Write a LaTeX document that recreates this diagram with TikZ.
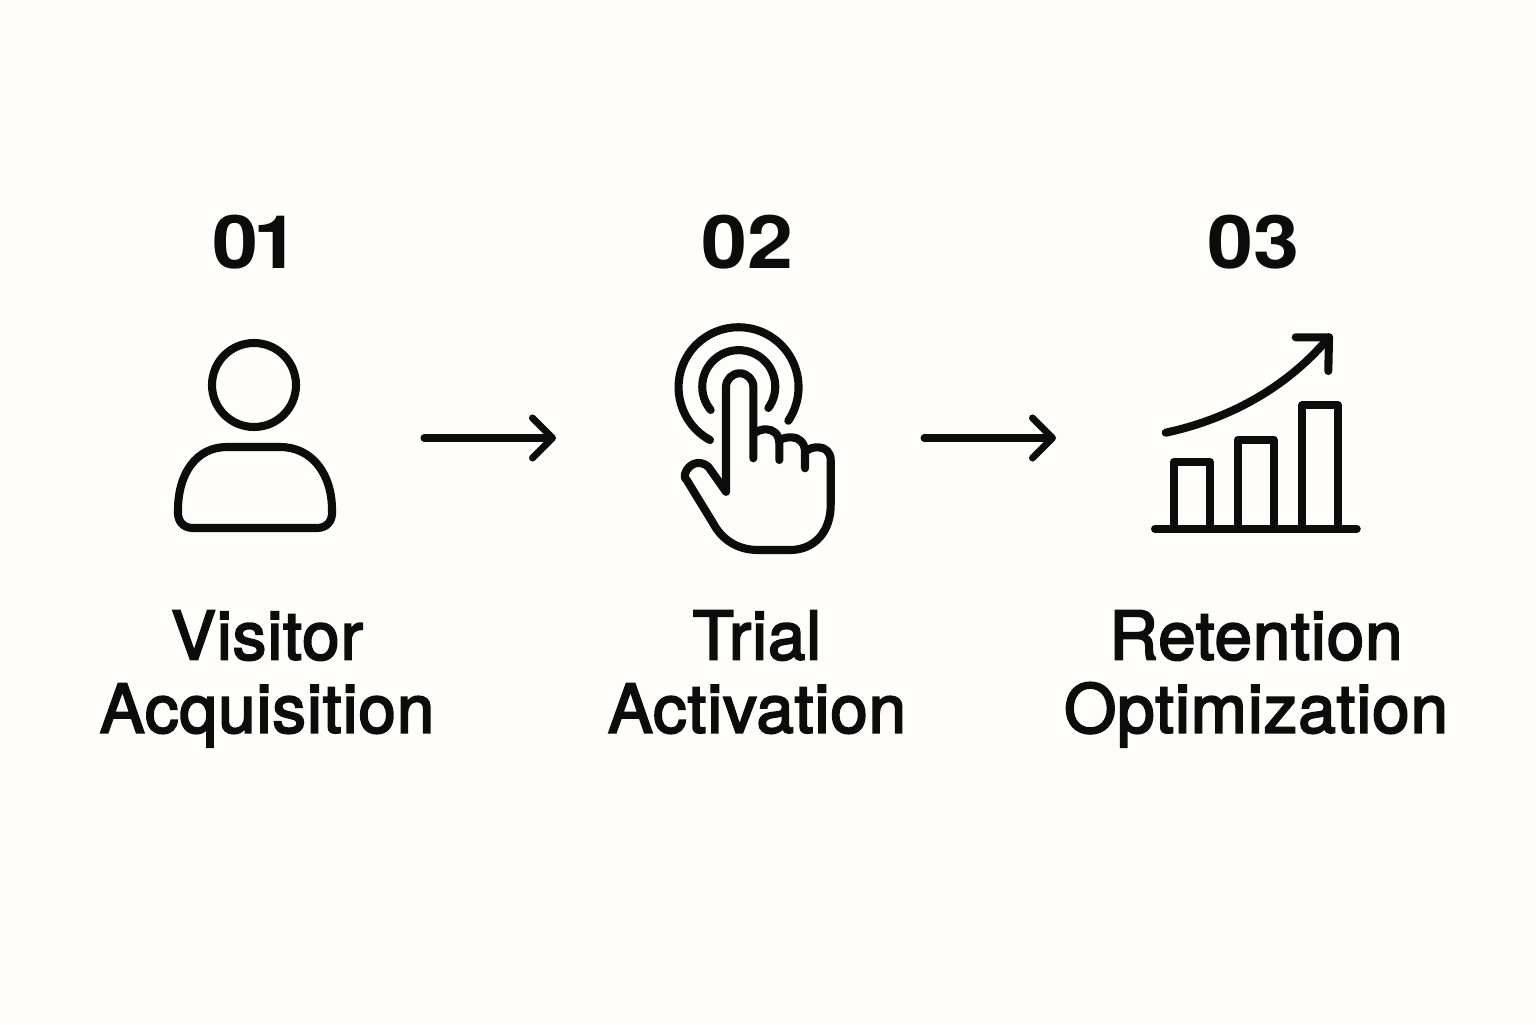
\documentclass[tikz,border=0pt]{standalone}
\usepackage{fontspec}
\setmainfont{TeX Gyre Heros}
\usetikzlibrary{arrows.meta}
\definecolor{paper}{HTML}{FEFDF9}
\definecolor{ink}{HTML}{0C0C0C}
\tikzset{
  icon/.style = {draw = ink, line width = 2.3pt, line cap = round, line join = round},
  flow/.style = {draw = ink, line width = 2pt, line cap = round, -{Straight Barb[length = 2mm, width = 4mm, round]}},
  stepnum/.style = {text = ink, font = \bfseries\fontsize{21}{25}\selectfont\addfontfeature{FakeStretch=1.12}},
  steplabel/.style = {text = ink, align = center, font = \fontsize{19.1}{20.8}\selectfont\addfontfeature{FakeBold=3,LetterSpace=1.5}, execute at end node = \strut}
}
\begin{document}
\begin{tikzpicture}
    \fill [paper] (0, 0) rectangle (15.36, 10.24);
    \useasboundingbox (0, 0) rectangle (15.36, 10.24);
    % numbers
    \node [stepnum] (num1) at (2.56, 7.82) {0\kern-1.2pt 1};
    \node [stepnum] (num2) at (7.47, 7.82) {02};
    \node [stepnum] (num3) at (12.53, 7.82) {03};
    % labels
    \node [steplabel] (label1) at (2.67, 3.415) {Visitor\\Acquisition};
    \node [steplabel] (label2) at (7.57, 3.415) {Trial\\Activation};
    \node [steplabel] (label3) at (12.56, 3.415) {Retention\\Optimization};
    % person
    \draw [icon] (2.54, 6.39) circle [radius = 0.42];
    \draw [icon] (1.93, 4.96) -- (3.17, 4.96) .. controls (3.27, 4.96) and (3.33, 5.03) .. (3.32, 5.14)
      .. controls (3.32, 5.50) and (3.12, 5.77) .. (2.80, 5.77) -- (2.27, 5.77)
      .. controls (1.96, 5.77) and (1.78, 5.50) .. (1.78, 5.14) .. controls (1.77, 5.03) and (1.83, 4.96) .. (1.93, 4.96) -- cycle;
    % hand
    \draw [icon] (7.10, 5.84) arc [start angle = 241.6, end angle = -34, radius = 0.6];
    \draw [icon] (7.107, 6.14) arc [start angle = 219.8, end angle = -35.8, radius = 0.365];
    \draw [icon] (7.26, 5.323) -- (7.26, 6.37) arc [start angle = 180, end angle = 0, radius = 0.137] -- (7.533, 5.657);
    \draw [icon] (7.26, 5.323) -- (7.083, 5.573) .. controls (6.99, 5.65) and (6.88, 5.60) .. (6.85, 5.50)
      .. controls (6.84, 5.47) and (6.85, 5.45) .. (6.867, 5.44) -- (7.13, 5.01)
      .. controls (7.22, 4.84) and (7.38, 4.74) .. (7.58, 4.74) -- (7.90, 4.74)
      .. controls (8.15, 4.74) and (8.307, 4.93) .. (8.307, 5.19) -- (8.307, 5.64)
      .. controls (8.307, 5.72) and (8.25, 5.767) .. (8.183, 5.767) .. controls (8.14, 5.767) and (8.09, 5.76) .. (8.057, 5.723);
    \draw [icon] (8.05, 5.557) -- (8.05, 5.72) .. controls (8.05, 5.82) and (7.98, 5.867) .. (7.917, 5.867) .. controls (7.87, 5.867) and (7.83, 5.86) .. (7.80, 5.84);
    \draw [icon] (7.793, 5.64) -- (7.793, 5.807) .. controls (7.793, 5.90) and (7.73, 5.947) .. (7.66, 5.947) .. controls (7.62, 5.947) and (7.58, 5.935) .. (7.543, 5.907);
    % chart
    \draw [icon] (11.55, 4.953) -- (13.567, 4.953);
    \draw [icon] (11.737, 4.953) -- (11.737, 5.62) -- (12.10, 5.62) -- (12.10, 4.953);
    \draw [icon] (12.377, 4.953) -- (12.377, 5.843) -- (12.737, 5.843) -- (12.737, 4.953);
    \draw [icon] (13.02, 4.953) -- (13.02, 6.187) -- (13.38, 6.187) -- (13.38, 4.953);
    \draw [icon] (11.657, 5.913) .. controls (12.25, 6.04) and (12.85, 6.34) .. (13.29, 6.867);
    \draw [icon] (12.957, 6.867) -- (13.29, 6.867) -- (13.283, 6.53);
    % arrows
    \coordinate (a1) at (4.24, 5.86);
    \coordinate (b1) at (5.56, 5.86);
    \coordinate (a2) at (9.24, 5.86);
    \coordinate (b2) at (10.56, 5.86);
    \draw [flow] (a1) -- (b1);
    \draw [flow] (a2) -- (b2);
\end{tikzpicture}
\end{document}
